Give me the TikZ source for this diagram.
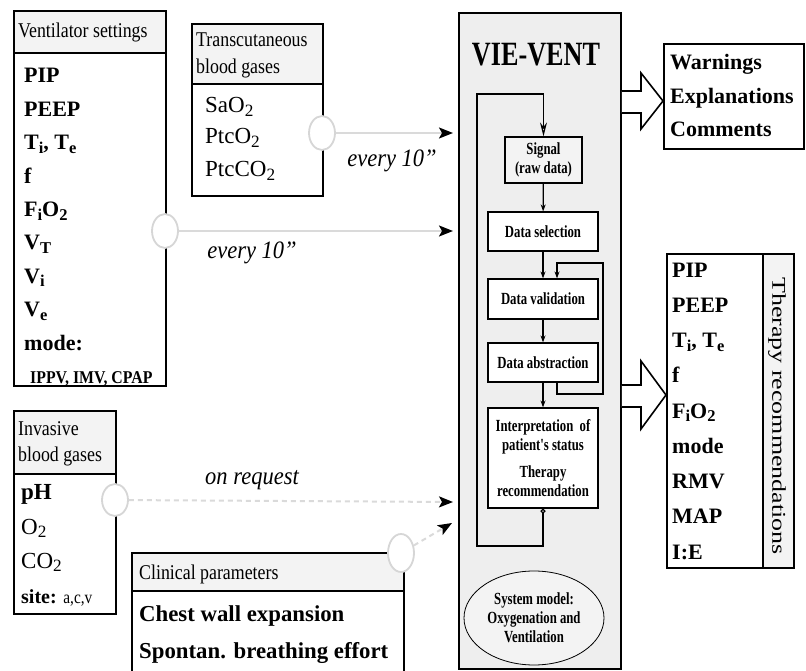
\documentclass[tikz,border=0pt]{standalone}
\usepackage{fontspec}
\setmainfont{Liberation Serif}
\newfontfamily\hdrfam[FakeStretch=0.85]{Liberation Serif}
\newfontfamily\vvfam[FakeStretch=0.75]{Liberation Serif}
\newfontfamily\smfam[FakeStretch=0.88]{Liberation Serif}
\newfontfamily\titlefam[FakeStretch=0.77]{Liberation Serif}
\newfontfamily\lblfam[FakeStretch=0.9]{Liberation Serif}
\newfontfamily\rotfam[FakeStretch=1.33]{Liberation Serif}
\usetikzlibrary{arrows.meta,shapes.geometric}
\definecolor{hdrgray}{HTML}{F3F3F3}
\definecolor{vvgray}{HTML}{EEEEEE}
\definecolor{portgray}{HTML}{D6D6D6}
\definecolor{linegray}{HTML}{DADADA}
\newcommand\lsub[1]{\raisebox{-0.35ex}{\scalebox{0.75}{#1}}}
\begin{document}
\begin{tikzpicture}[x=1pt,y=-1pt,
  box/.style={draw=black,line width=1.8pt,inner sep=0pt,anchor=north west},
  hdr/.style={box,fill=hdrgray},
  port/.style={ellipse,draw=portgray,fill=white,line width=1.8pt,minimum width=26pt,minimum height=34pt,inner sep=0pt},
  feed/.style={draw=linegray,line width=2pt,-{Stealth[length=14pt,width=11pt,inset=3pt,color=black]}},
  dfeed/.style={feed,dash pattern=on 5pt off 4pt},
  txt/.style={anchor=base west,inner sep=0pt},
  item/.style={txt,font=\fontsize{22}{24}\selectfont\bfseries},
  ritem/.style={txt,font=\fontsize{23}{26}\selectfont},
  bigitem/.style={txt,font=\fontsize{22.8}{26}\selectfont\bfseries},
  hdrtxt/.style={txt,font=\hdrfam\fontsize{21}{24}\selectfont},
  lbl/.style={inner sep=0pt,font=\lblfam\fontsize{25}{28}\selectfont\itshape},
  vvbox/.style={draw=black,line width=1.2pt,fill=white,inner sep=0pt,font=\vvfam\fontsize{17}{19}\selectfont\bfseries,align=center},
  sarrow/.style={line width=1.2pt,-{Stealth[length=7pt,width=5pt]}},
  hollow/.style={draw=black,line width=1.6pt,fill=white,line join=miter},
]
\useasboundingbox (0,0) rectangle (806,671);

% ---------- Ventilator settings ----------
\node[box,minimum width=152pt,minimum height=375pt] (vent) at (13,10) {};
\node[hdr,minimum width=152pt,minimum height=42pt] (venthdr) at (13,10) {};
\node[hdrtxt] (venthdrt) at (18,38) {Ventilator settings};
\node[item] (v1) at (24,83) {PIP};
\node[item] (v2) at (24,116.4) {PEEP};
\node[item] (v3) at (24,149.8) {T\lsub{i}, T\lsub{e}};
\node[item] (v4) at (24,183.2) {f};
\node[item] (v5) at (24,216.6) {F\lsub{i}O\lsub{2}};
\node[item] (v6) at (24,250) {V\lsub{T}};
\node[item] (v7) at (24,283.4) {V\lsub{i}};
\node[item] (v8) at (24,316.8) {V\lsub{e}};
\node[item] (v9) at (24,350.2) {mode:};
\node[txt,font=\smfam\fontsize{18}{20}\selectfont\bfseries] (v10) at (30,383) {IPPV, IMV, CPAP};

% ---------- Transcutaneous blood gases ----------
\node[box,minimum width=131pt,minimum height=172pt] (tc) at (191,23) {};
\node[hdr,minimum width=131pt,minimum height=60pt] (tchdr) at (191,23) {};
\node[hdrtxt] (tch1) at (196,47) {Transcutaneous};
\node[hdrtxt] (tch2) at (196,74) {blood gases};
\node[ritem] (t1) at (205,113) {SaO\lsub{2}};
\node[ritem] (t2) at (205,144) {PtcO\lsub{2}};
\node[ritem] (t3) at (205,177) {PtcCO\lsub{2}};

% ---------- Invasive blood gases ----------
\node[box,minimum width=102pt,minimum height=203pt] (inv) at (13,410) {};
\node[hdr,minimum width=102pt,minimum height=63pt] (invhdr) at (13,410) {};
\node[hdrtxt] (invh1) at (18,435) {Invasive};
\node[hdrtxt] (invh2) at (18,461) {blood gases};
\node[txt,font=\fontsize{23}{26}\selectfont\bfseries] (i1) at (21,499) {pH};
\node[ritem] (i2) at (21,534) {O\lsub{2}};
\node[ritem] (i3) at (21,568) {CO\lsub{2}};
\node[txt,font=\fontsize{20}{22}\selectfont\bfseries] (i4) at (21,603) {site: {\mdseries\hdrfam\fontsize{18}{20}\selectfont a,c,v}};

% ---------- Clinical parameters ----------
\node[box,minimum width=272pt,minimum height=125pt] (clin) at (131,552) {};
\node[hdr,minimum width=272pt,minimum height=38pt] (clinhdr) at (131,552) {};
\node[hdrtxt] (clinht) at (139,579) {Clinical parameters};
\node[bigitem] (c1) at (139,621) {Chest wall expansion};
\node[bigitem] (c2) at (139,658) {Spontan. breathing effort};

% ---------- VIE-VENT ----------
\node[box,fill=vvgray,minimum width=162pt,minimum height=656pt] (vv) at (458,12) {};
\node[inner sep=0pt,font=\titlefam\fontsize{34}{38}\selectfont\bfseries] (vvtitle) at (536,55) {VIE-VENT};
\node[vvbox,fill=hdrgray,minimum width=77pt,minimum height=46pt] (sig) at (543.5,160) {Signal\\(raw data)};
\node[vvbox,minimum width=110pt,minimum height=39pt] (sel) at (543,231.5) {Data selection};
\node[vvbox,minimum width=110pt,minimum height=40pt] (val) at (543,299) {Data validation};
\node[vvbox,minimum width=110pt,minimum height=39pt] (abs) at (543,362.5) {Data abstraction};
\node[vvbox,minimum width=110pt,minimum height=100pt] (interp) at (543,458) {Interpretation~~of\\patient's status\\[8pt]Therapy\\recommendation};
\node[ellipse,draw=black,line width=0.8pt,fill=hdrgray,minimum width=140pt,minimum height=94pt,inner sep=0pt,align=center,font=\vvfam\fontsize{17}{19}\selectfont\bfseries] (sysm) at (534,618) {System model:\\Oxygenation and\\Ventilation};

\draw[sarrow] (sig) -- (sel);
\draw[sarrow] (sel) -- (val);
\draw[sarrow] (val) -- (abs);
\draw[sarrow] (abs) -- (interp);

\coordinate (fb1) at (603,394);
\coordinate (fb2) at (603,263);
\draw[sarrow] ([xshift=14pt]abs.south) |- (fb1) -- (fb2) -| ([xshift=14pt]val.north);

\coordinate (loopbl) at (477,546);
\coordinate (looptl) at (477,94);
\draw[line width=1.2pt,{Circle[open,length=5pt,width=5pt]}-{Stealth[open,length=14pt,width=7pt]}] (interp.south) |- (loopbl) -- (looptl) -| (sig.north);

% ---------- Outputs ----------
\node[box,minimum width=140pt,minimum height=105pt] (warn) at (663,43) {};
\node[item] (w1) at (670,70) {Warnings};
\node[item] (w2) at (670,104) {Explanations};
\node[item] (w3) at (670,137) {Comments};

\node[box,minimum width=127pt,minimum height=314pt] (ther) at (666,253) {};
\node[box,fill=hdrgray,minimum width=31pt,minimum height=314pt] (therlbl) at (762,253) {};
\node[rotate=-90,inner sep=0pt,font=\rotfam\fontsize{19.5}{22}\selectfont] (thertxt) at (777,416) {Therapy recommendations};
\node[item] (r1) at (672,277) {PIP};
\node[item] (r2) at (672,312.25) {PEEP};
\node[item] (r3) at (672,347.5) {T\lsub{i}, T\lsub{e}};
\node[item] (r4) at (672,382.75) {f};
\node[item] (r5) at (672,418) {F\lsub{i}O\lsub{2}};
\node[item] (r6) at (672,453.25) {mode};
\node[item] (r7) at (672,488.5) {RMV};
\node[item] (r8) at (672,523.75) {MAP};
\node[item] (r9) at (672,559) {I:E};

\draw[hollow] (vv.east |- 0,91) -- (641,91) -- (641,73) -- (warn.west |- 0,101) -- (641,129) -- (641,113) -- (vv.east |- 0,113);
\draw[hollow] (vv.east |- 0,385) -- (641,385) -- (641,361) -- (ther.west |- 0,395) -- (641,429) -- (641,407) -- (vv.east |- 0,407);

% ---------- Ports and feeds ----------
\node[port] (ventport) at (165,231) {};
\node[port] (tcport) at (322,133) {};
\node[port,minimum height=32pt] (invport) at (115,500) {};
\node[port,minimum height=38pt] (clinport) at (401,553) {};

\coordinate (ventin) at (453,231);
\coordinate (tcin) at (453,133);
\coordinate (invin) at (453,502);
\coordinate (clinin) at (452,523);

\draw[feed] (ventport) -- (ventin);
\draw[feed] (tcport) -- (tcin);
\draw[dfeed] (invport) -- (invin);
\draw[dfeed] (clinport) -- (clinin);

\node[lbl] (lbl1) at (392,161) {every 10”};
\node[lbl] (lbl2) at (252,253) {every 10”};
\node[lbl] (lbl3) at (252,480) {on request};
\end{tikzpicture}
\end{document}
